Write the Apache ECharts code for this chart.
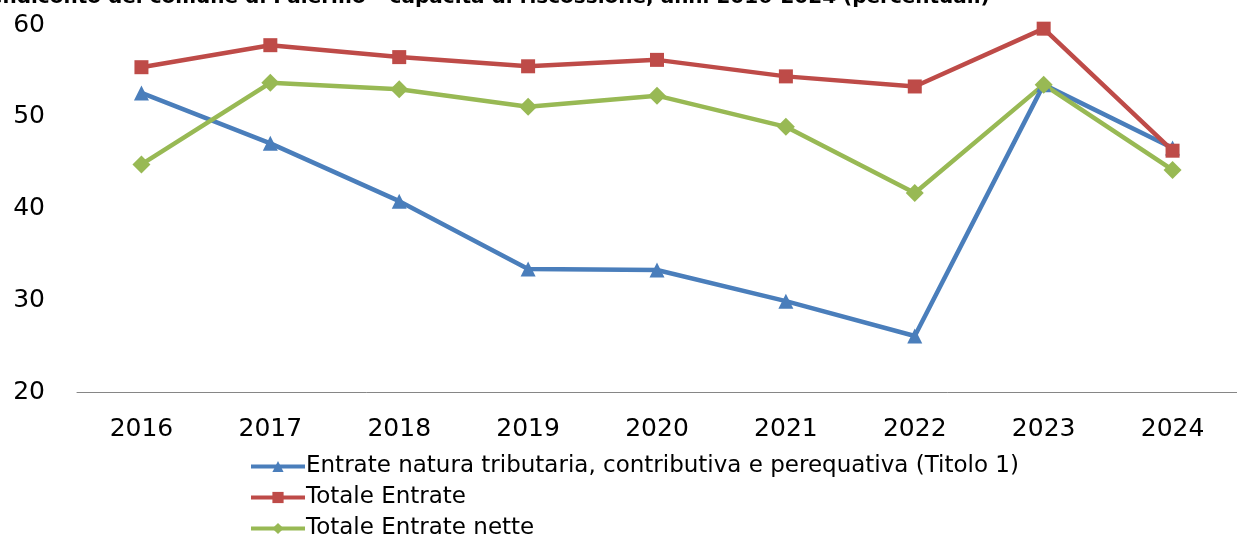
<!DOCTYPE html>
<html>
<head>
<meta charset="utf-8">
<script src="https://cdn.jsdelivr.net/npm/echarts@6/dist/echarts.min.js"></script>
<style>
  html, body { margin: 0; padding: 0; background: #fff; }
  #chart { width: 1237px; height: 538px; }
</style>
</head>
<body>
<div id="chart"></div>
<script>
var anni = ['2016', '2017', '2018', '2019', '2020', '2021', '2022', '2023', '2024'];
var titolo1 = [52.6, 47.1, 40.8, 33.4, 33.3, 29.9, 26.1, 53.5, 46.6];
var totaleEntrate = [55.4, 57.8, 56.5, 55.5, 56.2, 54.4, 53.3, 59.6, 46.3];
var totaleNette = [44.8, 53.7, 53.0, 51.1, 52.3, 48.9, 41.7, 53.5, 44.2];
var nomi = [
  'Entrate natura tributaria, contributiva e perequativa (Titolo 1)',
  'Totale Entrate',
  'Totale Entrate nette'
];

var font = 'DejaVu Sans';
var myChart = echarts.init(document.getElementById('chart'));

function serie(nome, dati, colore, simbolo, dim) {
  return {
    name: nome,
    type: 'line',
    data: dati,
    symbol: simbolo,
    symbolSize: dim,
    showAllSymbol: true,
    lineStyle: { color: colore, width: 4.5 },
    itemStyle: { color: colore },
    emphasis: { disabled: true }
  };
}

myChart.setOption({
  animation: false,
  // titolo tagliato in alto come nell'originale
  title: {
    text: '{b|rendiconto del comune di Palermo – capacità di riscossione, anni 2016-2024 }{n|(percentuali)}',
    left: -26,
    top: -17,
    textStyle: {
      rich: {
        b: { fontFamily: font, fontSize: 20, fontWeight: 'bold', color: '#000' },
        n: { fontFamily: font, fontSize: 20, color: '#000' }
      }
    }
  },
  legend: {
    orient: 'vertical',
    left: 244,
    top: 450,
    height: 150,
    itemWidth: 54,
    itemHeight: 14,
    itemGap: 8,
    data: nomi,
    lineStyle: { width: 4 },
    textStyle: { fontFamily: font, fontSize: 23, color: '#000', padding: [0, 0, 0, -4] }
  },
  grid: {
    left: 77,
    right: -11,
    top: 25,
    bottom: 146,
    containLabel: false
  },
  xAxis: {
    type: 'category',
    data: anni,
    boundaryGap: true,
    axisLine: { lineStyle: { color: '#868686', width: 1 } },
    axisTick: { show: false },
    axisLabel: { fontFamily: font, fontSize: 25, color: '#000', margin: 25 }
  },
  yAxis: {
    type: 'value',
    min: 20,
    max: 60,
    interval: 10,
    splitLine: { show: false },
    axisLine: { show: false },
    axisTick: { show: false },
    axisLabel: { fontFamily: font, fontSize: 25, color: '#000', margin: 32 }
  },
  series: [
    serie(nomi[0], titolo1, '#4a7ebb', 'triangle', 15),
    serie(nomi[1], totaleEntrate, '#be4b48', 'rect', 14),
    serie(nomi[2], totaleNette, '#98b954', 'diamond', 18)
  ]
});
</script>
</body>
</html>
